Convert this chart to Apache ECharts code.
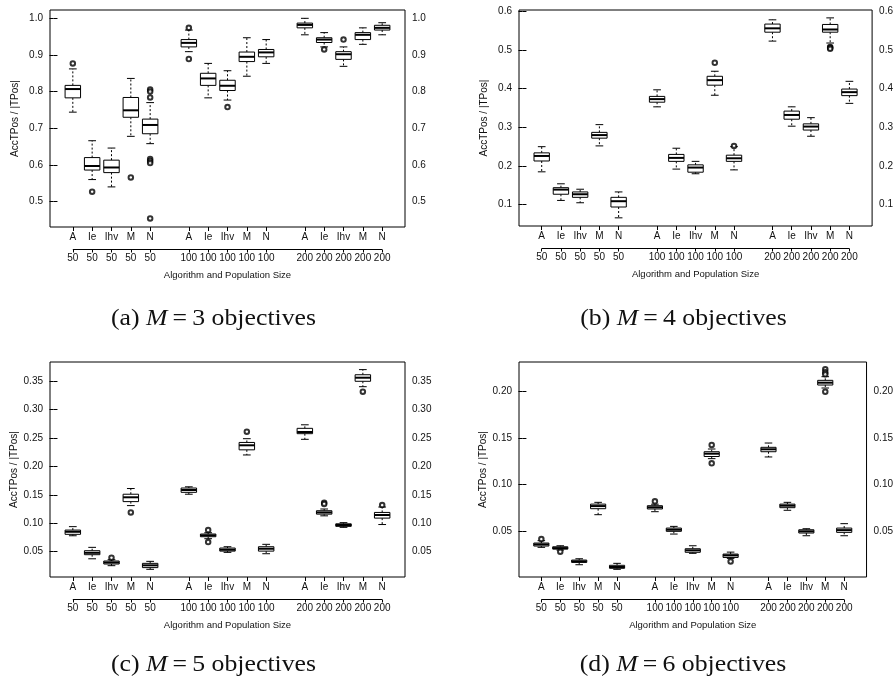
<!DOCTYPE html>
<html><head><meta charset="utf-8">
<script src="https://cdn.jsdelivr.net/npm/echarts@6/dist/echarts.min.js"></script>
<style>html,body{margin:0;padding:0;background:#fff}#c{width:896px;height:686px}</style>
</head><body><div id="c"></div>
<script>
// ---------------- data ----------------
const algorithms = ['A', 'Ie', 'Ihv', 'M', 'N'];
const popSizes = [50, 100, 200];
const positions = [1, 2, 3, 4, 5, 7, 8, 9, 10, 11, 13, 14, 15, 16, 17];
const xAxisTitle = 'Algorithm and Population Size';
const yAxisTitle = 'AccTPos / |TPos|';

// [lower whisker, Q1, median, Q3, upper whisker], order: A,Ie,Ihv,M,N x 50,100,200
const boxesM3 = [
  [0.744, 0.783, 0.807, 0.817, 0.862], [0.560, 0.586, 0.597, 0.620, 0.666], [0.540, 0.579, 0.593, 0.613, 0.646],
  [0.678, 0.730, 0.749, 0.784, 0.836], [0.658, 0.685, 0.709, 0.725, 0.770],
  [0.909, 0.922, 0.933, 0.942, 0.968], [0.783, 0.817, 0.836, 0.850, 0.877], [0.777, 0.803, 0.816, 0.831, 0.857],
  [0.842, 0.882, 0.895, 0.908, 0.947], [0.877, 0.895, 0.907, 0.915, 0.942],
  [0.955, 0.974, 0.982, 0.987, 1.000], [0.922, 0.934, 0.942, 0.947, 0.961], [0.869, 0.888, 0.902, 0.909, 0.922],
  [0.929, 0.942, 0.955, 0.961, 0.974], [0.955, 0.968, 0.974, 0.981, 0.988]
];
const outliersM3 = [[0, 0.877], [1, 0.527], [3, 0.566], [4, 0.806], [4, 0.800], [4, 0.784], [4, 0.616], [4, 0.611],
  [4, 0.605], [4, 0.454], [5, 0.974], [5, 0.889], [7, 0.758], [11, 0.915], [12, 0.942]];

const boxesM4 = [
  [0.185, 0.213, 0.226, 0.234, 0.250], [0.111, 0.127, 0.139, 0.144, 0.154], [0.105, 0.119, 0.127, 0.133, 0.140],
  [0.252, 0.272, 0.280, 0.287, 0.307], [0.066, 0.094, 0.109, 0.119, 0.133],
  [0.353, 0.365, 0.373, 0.380, 0.397], [0.192, 0.212, 0.221, 0.230, 0.246], [0.180, 0.184, 0.196, 0.203, 0.212],
  [0.383, 0.409, 0.422, 0.432, 0.445], [0.190, 0.212, 0.220, 0.228, 0.250],
  [0.523, 0.546, 0.556, 0.567, 0.578], [0.303, 0.321, 0.332, 0.342, 0.353], [0.277, 0.293, 0.302, 0.309, 0.325],
  [0.518, 0.546, 0.553, 0.566, 0.583], [0.362, 0.382, 0.391, 0.399, 0.419]
];
const outliersM4 = [[8, 0.467], [9, 0.252], [13, 0.508], [13, 0.506], [13, 0.503]];

const boxesM5 = [
  [0.078, 0.0805, 0.085, 0.088, 0.094], [0.0375, 0.0447, 0.048, 0.0517, 0.0576], [0.0254, 0.0283, 0.031, 0.0336, 0.0359],
  [0.131, 0.138, 0.1456, 0.151, 0.161], [0.019, 0.022, 0.026, 0.0295, 0.033],
  [0.151, 0.1543, 0.1584, 0.1619, 0.164], [0.0728, 0.0763, 0.0787, 0.081, 0.0833], [0.0488, 0.051, 0.0534, 0.0564, 0.0587],
  [0.220, 0.229, 0.237, 0.242, 0.2486], [0.0464, 0.051, 0.0552, 0.0587, 0.0629],
  [0.2475, 0.2574, 0.2604, 0.2668, 0.273], [0.113, 0.116, 0.119, 0.122, 0.125], [0.0928, 0.0945, 0.0969, 0.099, 0.101],
  [0.340, 0.3495, 0.3558, 0.361, 0.370], [0.0977, 0.109, 0.1145, 0.119, 0.1285]
];
const outliersM5 = [[2, 0.0394], [3, 0.119], [6, 0.088], [6, 0.067], [8, 0.261], [11, 0.136], [11, 0.134],
  [13, 0.3312], [14, 0.132]];

const boxesM6 = [
  [0.0329, 0.0343, 0.036, 0.0375, 0.040], [0.030, 0.031, 0.0321, 0.0335, 0.0346], [0.0143, 0.0168, 0.0179, 0.0193, 0.0207],
  [0.0678, 0.0742, 0.077, 0.0791, 0.081], [0.0094, 0.0105, 0.0119, 0.0137, 0.0158],
  [0.071, 0.0739, 0.0757, 0.0774, 0.079], [0.0471, 0.050, 0.0517, 0.0535, 0.0553], [0.0265, 0.0276, 0.0297, 0.0314, 0.0346],
  [0.1277, 0.130, 0.133, 0.1351, 0.138], [0.0211, 0.0221, 0.0243, 0.0257, 0.0278],
  [0.1295, 0.1351, 0.1377, 0.1398, 0.1444], [0.0725, 0.0753, 0.0774, 0.0791, 0.081], [0.0453, 0.0482, 0.050, 0.0517, 0.0528],
  [0.2032, 0.2064, 0.2089, 0.2114, 0.2153], [0.0453, 0.0489, 0.0513, 0.0535, 0.0582]
];
const outliersM6 = [[0, 0.0418], [1, 0.0282], [5, 0.0821], [8, 0.1423], [8, 0.1227], [9, 0.0179],
  [13, 0.2232], [13, 0.220], [13, 0.2178], [13, 0.1993]];

const yTicksM3 = [0.5, 0.6, 0.7, 0.8, 0.9, 1.0];
const yTicksM4 = [0.1, 0.2, 0.3, 0.4, 0.5, 0.6];
const yTicksM5 = [0.05, 0.10, 0.15, 0.20, 0.25, 0.30, 0.35];
const yTicksM6 = [0.05, 0.10, 0.15, 0.20];
const captionLetters = ['a', 'b', 'c', 'd'];
const objectives = [3, 4, 5, 6];

// ---------------- layout ----------------
const SANS = 'Liberation Sans, Arial, sans-serif';
const SERIF = 'Liberation Serif, Times New Roman, serif';
const panels = [
  { boxes: boxesM3, outliers: outliersM3, ticks: yTicksM3, digits: 1, ymin: 0.4306, ymax: 1.0227, left: 50, top: 10, width: 355, height: 217, capY: 319 },
  { boxes: boxesM4, outliers: outliersM4, ticks: yTicksM4, digits: 1, ymin: 0.0449, ymax: 0.6034, left: 519, top: 10, width: 357, height: 216, capY: 319 },
  { boxes: boxesM5, outliers: outliersM5, ticks: yTicksM5, digits: 2, ymin: 0.0055, ymax: 0.3834, left: 50, top: 362, width: 355, height: 215, capY: 665 },
  { boxes: boxesM6, outliers: outliersM6, ticks: yTicksM6, digits: 2, ymin: 0.0012, ymax: 0.2310, left: 519, top: 362, width: 356, height: 215, capY: 665 }
];
const XMIN = -0.18, XMAX = 18.18;

function algLabel(v) { const i = Math.round(v) - 1; return algorithms[i % 6] || ''; }
function popLabel(v) { const i = Math.round(v) - 1; return String(popSizes[Math.floor(i / 6)]); }

function renderBox(params, api) {
  const x = api.value(0);
  const lo = api.coord([x, api.value(1)]);
  const q1 = api.coord([x, api.value(2)]);
  const md = api.coord([x, api.value(3)]);
  const q3 = api.coord([x, api.value(4)]);
  const hi = api.coord([x, api.value(5)]);
  const half = api.size([0.8, 0])[0] / 2;
  const cap = half / 2;
  const cx = lo[0];
  const ls = { stroke: '#000', lineWidth: 1 };
  return {
    type: 'group', children: [
      { type: 'line', shape: { x1: cx, y1: q1[1], x2: cx, y2: lo[1] }, style: { stroke: '#000', lineWidth: 1, lineDash: [2, 2] } },
      { type: 'line', shape: { x1: cx, y1: q3[1], x2: cx, y2: hi[1] }, style: { stroke: '#000', lineWidth: 1, lineDash: [2, 2] } },
      { type: 'line', shape: { x1: cx - cap, y1: lo[1], x2: cx + cap, y2: lo[1] }, style: ls },
      { type: 'line', shape: { x1: cx - cap, y1: hi[1], x2: cx + cap, y2: hi[1] }, style: ls },
      { type: 'rect', shape: { x: cx - half, y: q3[1], width: 2 * half, height: q1[1] - q3[1] }, style: { fill: '#fff', stroke: '#000', lineWidth: 1 } },
      { type: 'line', shape: { x1: cx - half, y1: md[1], x2: cx + half, y2: md[1] }, style: { stroke: '#000', lineWidth: 2 } }
    ]
  };
}

function renderPopLine(params, api) {
  const cs = params.coordSys;
  const a = api.coord([api.value(0), api.value(2)]);
  const b = api.coord([api.value(1), api.value(2)]);
  const y = cs.y + cs.height + 22.5;
  return { type: 'line', shape: { x1: a[0], y1: y, x2: b[0], y2: y }, style: { stroke: '#000', lineWidth: 1 } };
}

const option = { animation: false, grid: [], xAxis: [], yAxis: [], series: [], graphic: [] };
const txt = { color: '#111', fontFamily: SANS, fontSize: 10 };

panels.forEach((p, k) => {
  option.grid.push({ left: p.left, top: p.top, width: p.width, height: p.height, show: true, borderColor: '#000', borderWidth: 1, backgroundColor: 'transparent' });
  // algorithm row
  option.xAxis.push({
    gridIndex: k, type: 'value', min: XMIN, max: XMAX, position: 'bottom',
    axisLine: { show: false }, splitLine: { show: false },
    axisTick: { show: true, length: 4, customValues: positions, lineStyle: { color: '#000' } },
    axisLabel: { show: true, customValues: positions, formatter: algLabel, margin: 5, ...txt }
  });
  // population row
  option.xAxis.push({
    gridIndex: k, type: 'value', min: XMIN, max: XMAX, position: 'bottom', offset: 22.5,
    axisLine: { show: false }, splitLine: { show: false },
    axisTick: { show: true, length: 3, customValues: positions, lineStyle: { color: '#000' } },
    axisLabel: { show: true, customValues: positions, formatter: popLabel, margin: 4, ...txt },
    name: xAxisTitle, nameLocation: 'middle', nameGap: 21,
    nameTextStyle: { color: '#111', fontFamily: SANS, fontSize: 9.5 }
  });
  const fmt = v => v.toFixed(p.digits);
  option.yAxis.push({
    gridIndex: k, type: 'value', min: p.ymin, max: p.ymax, position: 'left',
    axisLine: { show: false }, splitLine: { show: false },
    axisTick: { show: true, length: 4, customValues: p.ticks, lineStyle: { color: '#000' } },
    axisLabel: { show: true, customValues: p.ticks, formatter: fmt, margin: 7, ...txt },
    name: yAxisTitle, nameLocation: 'middle', nameGap: 30,
    nameTextStyle: { color: '#111', fontFamily: SANS, fontSize: 10 }
  });
  option.yAxis.push({
    gridIndex: k, type: 'value', min: p.ymin, max: p.ymax, position: 'right',
    axisLine: { show: false }, splitLine: { show: false },
    axisTick: { show: true, length: 4, customValues: p.ticks, lineStyle: { color: '#000' } },
    axisLabel: { show: true, customValues: p.ticks, formatter: fmt, margin: 7, ...txt }
  });
  const xi = 2 * k, yi = 2 * k;
  option.series.push({
    type: 'custom', xAxisIndex: xi, yAxisIndex: yi, renderItem: renderBox, silent: true,
    encode: { x: 0, y: [1, 2, 3, 4, 5] },
    data: p.boxes.map((b, i) => [positions[i], ...b])
  });
  option.series.push({
    type: 'scatter', xAxisIndex: xi, yAxisIndex: yi, silent: true,
    symbol: 'emptyCircle', symbolSize: 4.5,
    itemStyle: { color: '#000', borderColor: '#000', borderWidth: 1 },
    data: p.outliers.map(o => [positions[o[0]], o[1]])
  });
  // axis line of the population row, spanning first to last group tick
  option.series.push({
    type: 'custom', xAxisIndex: xi, yAxisIndex: yi, renderItem: renderPopLine, silent: true, clip: false,
    data: [[positions[0], positions[positions.length - 1], p.ymin]]
  });
  const cx = p.left + p.width / 2 - 14;
  option.graphic.push({
    type: 'text', x: cx, y: p.capY, scaleX: 1.12, scaleY: 1,
    style: {
      text: '{n|(' + captionLetters[k] + ') }{i|M}{n|\u2009=\u2009' + objectives[k] + ' objectives}',
      align: 'center', verticalAlign: 'middle',
      rich: {
        n: { fontFamily: SERIF, fontSize: 23, fill: '#111' },
        i: { fontFamily: SERIF, fontSize: 23, fontStyle: 'italic', fill: '#111' }
      }
    }
  });
});

const chart = echarts.init(document.getElementById('c'), null, { renderer: 'canvas' });
chart.setOption(option);
</script>
</body></html>
